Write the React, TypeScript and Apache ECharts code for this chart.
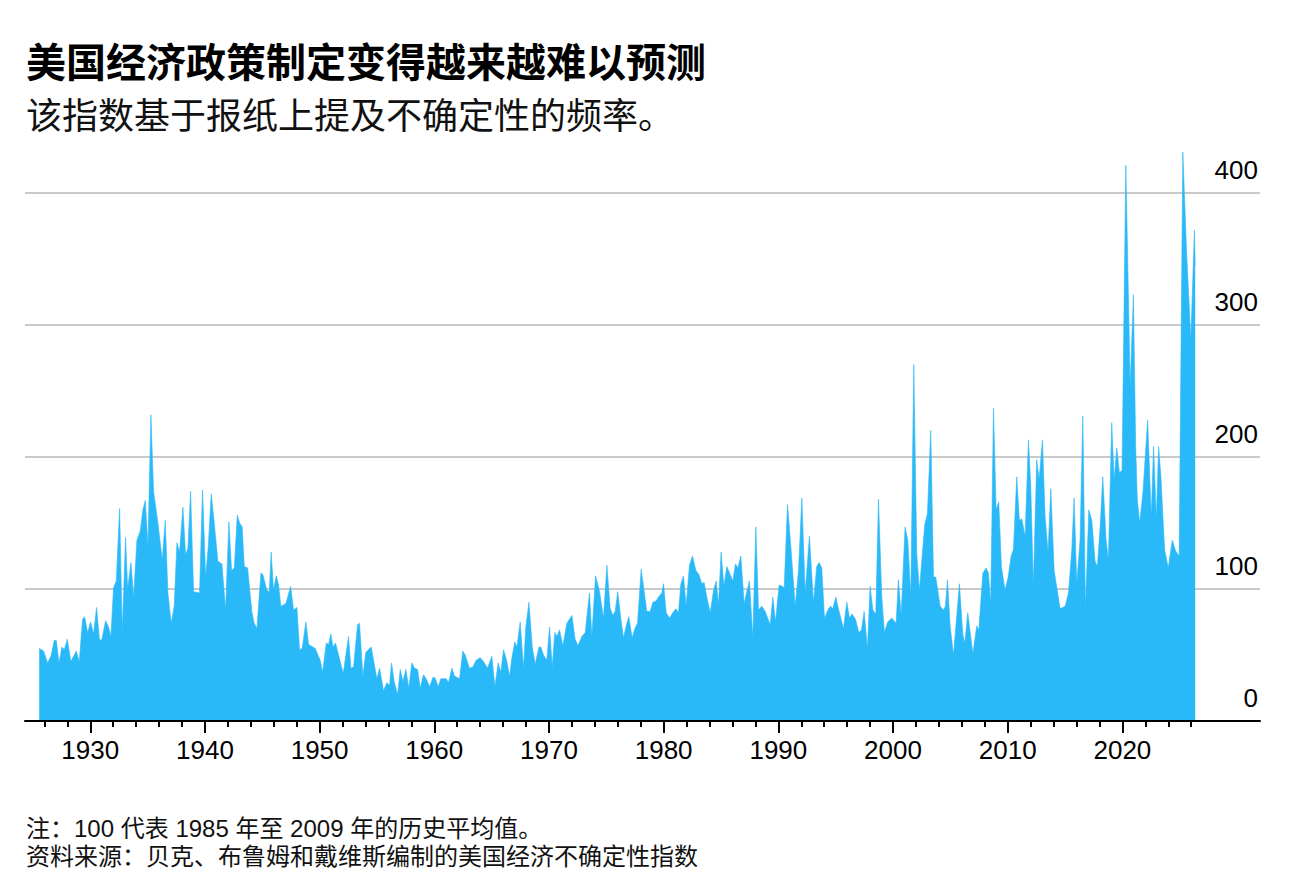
import React, { useEffect, useRef } from 'react';
import * as echarts from 'echarts';

const TITLE = '美国经济政策制定变得越来越难以预测';
const SUBTITLE = '该指数基于报纸上提及不确定性的频率。';
const NOTE = '注：100 代表 1985 年至 2009 年的历史平均值。';
const SOURCE = '资料来源：贝克、布鲁姆和戴维斯编制的美国经济不确定性指数';

const years = [
  1925.55, 1925.93, 1926.28, 1926.57, 1926.86, 1927.04, 1927.27, 1927.53, 1927.73, 1928.0,
  1928.31, 1928.78, 1929.04, 1929.33, 1929.51, 1929.77, 1930.03, 1930.29, 1930.55, 1930.81,
  1931.02, 1931.34, 1931.6, 1931.8, 1932.03, 1932.27, 1932.56, 1932.79, 1933.08, 1933.26,
  1933.55, 1933.78, 1934.07, 1934.36, 1934.59, 1934.8, 1935.03, 1935.29, 1935.52, 1935.9,
  1936.28, 1936.54, 1936.77, 1937.06, 1937.32, 1937.56, 1937.79, 1938.08, 1938.31, 1938.52,
  1938.75, 1939.01, 1939.53, 1939.79, 1940.06, 1940.29, 1940.55, 1940.81, 1941.13, 1941.48,
  1941.8, 1942.09, 1942.32, 1942.56, 1942.82, 1943.02, 1943.25, 1943.43, 1943.72, 1944.1,
  1944.3, 1944.53, 1944.88, 1945.05, 1945.4, 1945.61, 1945.78, 1945.98, 1946.22, 1946.42,
  1946.62, 1947.06, 1947.47, 1947.73, 1948.02, 1948.25, 1948.48, 1948.8, 1949.04, 1949.62,
  1950.05, 1950.26, 1950.58, 1950.78, 1950.98, 1951.16, 1951.39, 1951.68, 1952.06, 1952.52,
  1952.73, 1952.96, 1953.31, 1953.48, 1953.77, 1954.03, 1954.5, 1954.99, 1955.23, 1955.57,
  1955.87, 1956.1, 1956.27, 1956.5, 1956.8, 1957.03, 1957.26, 1957.52, 1957.78, 1958.04,
  1958.28, 1958.54, 1958.77, 1959.06, 1959.35, 1959.59, 1959.88, 1960.05, 1960.34, 1960.57,
  1961.04, 1961.24, 1961.53, 1961.76, 1962.2, 1962.49, 1962.69, 1963.07, 1963.36, 1963.65,
  1964.0, 1964.29, 1964.64, 1965.02, 1965.28, 1965.57, 1965.8, 1966.04, 1966.33, 1966.56,
  1966.79, 1967.02, 1967.2, 1967.49, 1967.78, 1967.98, 1968.25, 1968.54, 1968.8, 1969.12,
  1969.29, 1969.52, 1969.81, 1970.05, 1970.28, 1970.51, 1970.69, 1970.92, 1971.21, 1971.56,
  1972.0, 1972.28, 1972.52, 1972.87, 1973.16, 1973.53, 1973.74, 1974.06, 1974.41, 1974.75,
  1975.05, 1975.34, 1975.57, 1975.77, 1976.0, 1976.27, 1976.5, 1976.73, 1976.96, 1977.25,
  1977.49, 1977.72, 1978.04, 1978.24, 1978.53, 1978.82, 1979.06, 1979.35, 1979.55, 1979.84,
  1979.99, 1980.22, 1980.51, 1980.8, 1981.06, 1981.29, 1981.5, 1981.73, 1981.96, 1982.25,
  1982.51, 1982.81, 1983.07, 1983.33, 1983.53, 1983.76, 1984.06, 1984.35, 1984.58, 1984.78,
  1985.01, 1985.25, 1985.51, 1985.8, 1986.03, 1986.26, 1986.47, 1986.73, 1987.02, 1987.25,
  1987.48, 1987.77, 1988.04, 1988.27, 1988.56, 1988.85, 1989.29, 1989.52, 1989.75, 1990.07,
  1990.33, 1990.51, 1990.8, 1991.09, 1991.47, 1991.76, 1992.05, 1992.34, 1992.71, 1993.06,
  1993.35, 1993.56, 1993.79, 1994.02, 1994.37, 1994.57, 1994.75, 1995.01, 1995.24, 1995.68,
  1995.97, 1996.2, 1996.43, 1996.73, 1997.02, 1997.25, 1997.48, 1997.77, 1998.0, 1998.24,
  1998.5, 1998.73, 1999.02, 1999.25, 1999.54, 1999.89, 2000.27, 2000.47, 2000.71, 2001.05,
  2001.29, 2001.55, 2001.81, 2002.07, 2002.3, 2002.54, 2002.77, 2003.0, 2003.29, 2003.53,
  2003.73, 2004.11, 2004.4, 2004.57, 2004.75, 2004.98, 2005.27, 2005.56, 2005.79, 2006.08,
  2006.26, 2006.52, 2006.96, 2007.3, 2007.48, 2007.83, 2008.12, 2008.32, 2008.52, 2008.76,
  2008.99, 2009.22, 2009.45, 2009.77, 2010.04, 2010.3, 2010.5, 2010.79, 2011.02, 2011.23,
  2011.52, 2011.81, 2012.01, 2012.24, 2012.53, 2012.74, 2013.03, 2013.26, 2013.52, 2013.76,
  2014.05, 2014.57, 2015.01, 2015.3, 2015.59, 2015.79, 2016.02, 2016.31, 2016.55, 2016.78,
  2017.07, 2017.33, 2017.62, 2017.82, 2018.06, 2018.29, 2018.58, 2018.78, 2019.07, 2019.28,
  2019.51, 2019.74, 2019.97, 2020.3, 2020.68, 2020.96, 2021.16, 2021.3, 2021.51, 2021.8,
  2022.2, 2022.52, 2022.72, 2022.96, 2023.16, 2023.36, 2023.68, 2024.0, 2024.35, 2024.64,
  2024.95, 2025.27, 2025.6, 2025.97, 2026.28, 2026.35,
];

const values = [
  55, 53, 44, 49, 61, 61, 44, 56, 54, 62,
  45, 53, 45, 77, 79, 67, 75, 66, 86, 61,
  62, 76, 71, 64, 101, 106, 161, 68, 139, 100,
  120, 94, 137, 144, 160, 167, 132, 232, 174, 150,
  122, 152, 97, 74, 87, 135, 128, 162, 126, 131,
  174, 98, 97, 175, 109, 132, 172, 150, 121, 119,
  84, 151, 114, 116, 156, 150, 147, 117, 116, 82,
  74, 70, 112, 111, 99, 98, 128, 99, 110, 103,
  87, 89, 102, 84, 86, 54, 55, 75, 58, 55,
  46, 37, 59, 58, 66, 56, 59, 49, 36, 64,
  40, 41, 73, 74, 34, 52, 56, 32, 40, 23,
  29, 27, 44, 30, 20, 39, 30, 39, 25, 44,
  40, 39, 25, 35, 31, 26, 33, 33, 26, 32,
  32, 29, 40, 34, 32, 53, 50, 40, 41, 46,
  48, 45, 40, 49, 26, 44, 37, 54, 45, 34,
  49, 60, 56, 75, 40, 71, 90, 56, 43, 56,
  56, 50, 46, 71, 41, 67, 64, 69, 57, 74,
  80, 62, 57, 64, 67, 97, 64, 110, 98, 78,
  118, 85, 80, 83, 98, 77, 63, 72, 79, 63,
  70, 74, 115, 102, 83, 83, 90, 91, 94, 97,
  104, 82, 78, 82, 85, 82, 104, 110, 87, 118,
  125, 114, 111, 104, 105, 94, 82, 99, 106, 88,
  128, 102, 117, 111, 106, 119, 116, 125, 89, 98,
  106, 63, 147, 84, 87, 83, 73, 94, 75, 103,
  102, 101, 164, 132, 87, 114, 169, 97, 140, 90,
  117, 120, 116, 78, 85, 87, 85, 94, 85, 70,
  90, 78, 81, 77, 67, 69, 83, 55, 102, 84,
  81, 168, 94, 67, 75, 78, 74, 107, 80, 147,
  137, 94, 270, 127, 99, 125, 149, 157, 220, 109,
  109, 87, 84, 87, 107, 72, 50, 80, 104, 66,
  59, 82, 51, 72, 69, 112, 116, 112, 89, 237,
  160, 166, 117, 99, 109, 125, 130, 185, 152, 153,
  140, 213, 178, 102, 198, 183, 213, 155, 128, 176,
  114, 85, 87, 97, 130, 169, 104, 137, 231, 85,
  160, 152, 121, 117, 147, 185, 137, 122, 226, 183,
  207, 188, 190, 421, 253, 323, 208, 168, 150, 174,
  228, 155, 208, 153, 208, 185, 130, 116, 137, 129,
  125, 431, 355, 289, 372, 345,
];

const minorTickYears = [
  1926, 1928, 1930, 1932, 1934, 1936, 1938, 1940, 1942, 1944, 1946, 1948, 1950,
  1952, 1954, 1956, 1958, 1960, 1962, 1964, 1966, 1968, 1970, 1972, 1974, 1976,
  1978, 1980, 1982, 1984, 1986, 1988, 1990, 1992, 1994, 1996, 1998, 2000, 2002,
  2004, 2006, 2008, 2010, 2012, 2014, 2016, 2018, 2020, 2022, 2024, 2026,
];
const decadeLabels = [1930, 1940, 1950, 1960, 1970, 1980, 1990, 2000, 2010, 2020];
const yTickValues = [0, 100, 200, 300, 400];

const BLUE = '#2ab9f8';
const FONT = "'Liberation Sans', 'Noto Sans CJK SC', sans-serif";
const CJK = "'Noto Sans CJK SC', 'Liberation Sans', sans-serif";

export default function App() {
  const ref = useRef<HTMLDivElement>(null);
  useEffect(() => {
    if (!ref.current) return;
    const chart = echarts.init(ref.current, null, { renderer: 'svg' });
    const X_MIN = 1924.31;
    const X_MAX = 2032;
    chart.setOption({
      animation: false,
      backgroundColor: '#ffffff',
      title: [
        {
          text: TITLE, left: 26, top: 38, padding: 0,
          textStyle: { fontFamily: CJK, fontSize: 40, fontWeight: 'bold', color: '#000', lineHeight: 44 },
        },
        {
          text: SUBTITLE, left: 26, top: 94, padding: 0,
          textStyle: { fontFamily: CJK, fontSize: 36, fontWeight: 'normal', color: '#111', lineHeight: 38 },
        },
        {
          text: NOTE, left: 26, top: 815, padding: 0,
          textStyle: { fontFamily: FONT, fontSize: 24, fontWeight: 'normal', color: '#111', lineHeight: 27 },
        },
        {
          text: SOURCE, left: 26, top: 843, padding: 0,
          textStyle: { fontFamily: FONT, fontSize: 24, fontWeight: 'normal', color: '#111', lineHeight: 27 },
        },
      ],
      grid: { left: 25, right: 46, top: 193, bottom: 173, containLabel: false },
      xAxis: [
        {
          type: 'value', position: 'bottom', min: X_MIN, max: X_MAX, z: 5,
          axisLine: { show: true, lineStyle: { color: '#000', width: 2 } },
          axisTick: { show: true, customValues: minorTickYears, length: 6, lineStyle: { color: '#000', width: 2 } },
          axisLabel: {
            show: true, customValues: decadeLabels, margin: 16,
            fontFamily: FONT, fontSize: 26, color: '#000',
            formatter: (v: number) => String(Math.round(v)),
          },
          splitLine: { show: false },
        },
        {
          type: 'value', position: 'bottom', min: X_MIN, max: X_MAX, z: 5,
          axisLine: { show: false },
          axisTick: { show: true, customValues: decadeLabels, length: 12, lineStyle: { color: '#000', width: 2 } },
          axisLabel: { show: false },
          splitLine: { show: false },
        },
      ],
      yAxis: {
        type: 'value', position: 'right', min: 0, max: 400, interval: 100,
        axisLine: { show: false },
        axisTick: { show: false },
        splitLine: { show: true, lineStyle: { color: '#c9c9c9', width: 2 } },
        axisLabel: {
          inside: true, margin: 2, fontFamily: FONT, fontSize: 26, color: '#000',
          verticalAlign: 'bottom', lineHeight: 46, align: 'right',
          customValues: yTickValues,
        },
      },
      series: [
        {
          type: 'line',
          xAxisIndex: 0,
          data: years.map((y, i) => [y, values[i]]),
          showSymbol: false,
          symbol: 'none',
          clip: false,
          lineStyle: { width: 0.6, color: BLUE },
          itemStyle: { color: BLUE },
          areaStyle: { color: BLUE, opacity: 1 },
          z: 2,
        },
      ],
    });
    return () => chart.dispose();
  }, []);
  return (
    <div
      ref={ref}
      style={{ position: 'absolute', left: 0, top: 0, width: 1306, height: 894, background: '#fff' }}
    />
  );
}
